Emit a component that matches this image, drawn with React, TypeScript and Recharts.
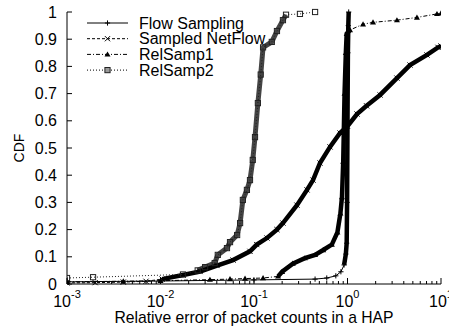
import React from 'react';
import { LineChart, Line, XAxis, YAxis } from 'recharts';

// CDF of relative error as [relative error, CDF]
const seriesNames = ['Flow Sampling', 'Sampled NetFlow', 'RelSamp1', 'RelSamp2'];

const flowSampling: [number, number][] = [
  [0.001, 0.008], [0.01, 0.011], [0.1, 0.015], [0.45, 0.018], [0.6, 0.022],
  [0.75, 0.03], [0.85, 0.045], [0.92, 0.07], [0.96, 0.11], [0.98, 0.15],
  [0.99, 0.3], [1.0, 0.6], [1.01, 0.85], [1.02, 0.95], [1.03, 1.0],
];

const sampledNetFlow: [number, number][] = [
  [0.001, 0.004], [0.002, 0.005], [0.004, 0.007], [0.007, 0.01], [0.0104, 0.018],
  [0.0174, 0.033], [0.0265, 0.046], [0.0402, 0.068], [0.0597, 0.088], [0.0906, 0.12],
  [0.107, 0.145], [0.1377, 0.169], [0.176, 0.2], [0.204, 0.224], [0.288, 0.29],
  [0.369, 0.346], [0.428, 0.382], [0.508, 0.445], [0.65, 0.504], [0.832, 0.555],
  [1.0, 0.58], [1.264, 0.625], [1.6, 0.655], [2.23, 0.695], [3.38, 0.757],
  [4.66, 0.805], [7.08, 0.842], [9.29, 0.87], [10, 0.875],
];

const relSamp1: [number, number][] = [
  [0.001, 0.008], [0.004, 0.01], [0.01, 0.012], [0.0338, 0.016], [0.0554, 0.018],
  [0.0802, 0.02], [0.125, 0.022], [0.181, 0.028], [0.2, 0.045], [0.26, 0.075],
  [0.35, 0.095], [0.45, 0.107], [0.55, 0.125], [0.68, 0.145], [0.78, 0.19],
  [0.84, 0.26], [0.873, 0.32], [0.9, 0.45], [0.93, 0.7], [0.96, 0.85],
  [0.98, 0.92], [1.064, 0.934], [1.466, 0.955], [1.875, 0.962], [3.38, 0.97],
  [5.53, 0.98], [9.06, 0.993], [10, 0.995],
];

const relSamp2: [number, number][] = [
  [0.001, 0.022], [0.0019, 0.025], [0.0174, 0.035], [0.025, 0.05], [0.03, 0.062],
  [0.038, 0.077], [0.041, 0.107], [0.0514, 0.132], [0.0554, 0.154], [0.066, 0.18],
  [0.071, 0.224], [0.076, 0.309], [0.084, 0.346], [0.0906, 0.382], [0.097, 0.456],
  [0.1025, 0.54], [0.11, 0.665], [0.118, 0.77], [0.125, 0.87], [0.155, 0.89],
  [0.176, 0.93], [0.204, 0.97], [0.22, 0.99], [0.31, 0.993], [0.45, 1.0],
];

const xMajorTicks = [0.001, 0.01, 0.1, 1, 10];
const xMinorTicks = [0.001, 0.01, 0.1, 1].flatMap((d) => [2, 3, 4, 5, 6, 7, 8, 9].map((m) => +(d * m).toPrecision(3)));
const xTicks = [...xMajorTicks, ...xMinorTicks].sort((a, b) => a - b);
const yTicks = [0, 0.1, 0.2, 0.3, 0.4, 0.5, 0.6, 0.7, 0.8, 0.9, 1];
const yTickLabels = ['0', '0.1', '0.2', '0.3', '0.4', '0.5', '0.6', '0.7', '0.8', '0.9', '1'];

const FONT = '"Liberation Sans", Arial, Helvetica, sans-serif';

const toPts = (arr: [number, number][]) => arr.map(([x, y]) => ({ x, y }));
const between = (arr: [number, number][], lo: number, hi: number) => toPts(arr.filter(([x]) => x >= lo && x <= hi));

type MarkKind = 'plus' | 'cross' | 'tri' | 'square';

const Marker = ({ kind, cx, cy, legend }: { kind: MarkKind; cx: number; cy: number; legend?: boolean }) => {
  const s = 2.6;
  if (kind === 'plus')
    return <path d={`M${cx - s},${cy}H${cx + s}M${cx},${cy - s}V${cy + s}`} stroke="#000" strokeWidth={1} />;
  if (kind === 'cross')
    return <path d={`M${cx - s},${cy - s}L${cx + s},${cy + s}M${cx - s},${cy + s}L${cx + s},${cy - s}`} stroke="#000" strokeWidth={1} />;
  if (kind === 'tri')
    return <path d={`M${cx},${cy - 3}L${cx + 3},${cy + 2.2}L${cx - 3},${cy + 2.2}Z`} fill="#000" />;
  return <rect x={cx - 2.6} y={cy - 2.6} width={5.2} height={5.2} fill={legend ? '#999' : 'none'} stroke="#222" strokeWidth={1} />;
};

const dotFor = (kind: MarkKind) => (p: any) => (
  <g key={`${kind}-${p.index}`}>
    {p.cx != null && p.cy != null ? <Marker kind={kind} cx={p.cx} cy={p.cy} /> : null}
  </g>
);

const XTick = (props: any) => {
  const { x, y, payload, top } = props;
  const v = payload.value;
  const major = xMajorTicks.includes(v);
  const len = major ? 6 : 3;
  const exp = Math.round(Math.log10(v));
  return (
    <g>
      <line x1={x} x2={x} y1={y} y2={top ? y + len : y - len} stroke="#000" />
      {major && !top ? (
        <text x={x} y={y + 23} textAnchor="middle" fontSize={16} fontFamily={FONT} fill="#000">
          10<tspan dy={-9} fontSize={11}>{String(exp)}</tspan>
        </text>
      ) : null}
    </g>
  );
};

const YTick = (props: any) => {
  const { x, y, payload, right } = props;
  const i = yTicks.indexOf(payload.value);
  return (
    <g>
      <line x1={x} x2={right ? x - 5 : x + 5} y1={y} y2={y} stroke="#000" />
      {!right ? (
        <text x={x - 10} y={y + 5.5} textAnchor="end" fontSize={16} fontFamily={FONT} fill="#000">
          {yTickLabels[i]}
        </text>
      ) : null}
    </g>
  );
};

const legendStyles: { kind: MarkKind; dash?: string }[] = [
  { kind: 'plus' },
  { kind: 'cross', dash: '3 2' },
  { kind: 'tri', dash: '4 2 1 2' },
  { kind: 'square', dash: '1 2' },
];

export default function App() {
  return (
    <div style={{ position: 'absolute', left: 0, top: 0, width: 449, height: 328, background: '#fff', fontFamily: FONT }}>
      <LineChart width={449} height={328} margin={{ top: 12, right: 8, bottom: 0, left: 0 }}>
        <XAxis
          dataKey="x"
          type="number"
          scale="log"
          domain={[0.001, 10]}
          allowDataOverflow
          ticks={xTicks}
          interval={0}
          tickLine={false}
          tickSize={0}
          tickMargin={0}
          height={44}
          axisLine={{ stroke: '#000' }}
          tick={<XTick />}
          label={{ value: 'Relative error of packet counts in a HAP', position: 'insideBottom', offset: 5, fontSize: 15.7, fill: '#000', fontFamily: FONT }}
        />
        <XAxis
          xAxisId="top"
          orientation="top"
          dataKey="x"
          type="number"
          scale="log"
          domain={[0.001, 10]}
          allowDataOverflow
          ticks={xTicks}
          interval={0}
          tickLine={false}
          tickSize={0}
          tickMargin={0}
          height={0}
          axisLine={{ stroke: '#000' }}
          tick={<XTick top />}
        />
        <YAxis
          type="number"
          domain={[0, 1]}
          ticks={yTicks}
          interval={0}
          tickLine={false}
          tickSize={0}
          tickMargin={0}
          width={67}
          axisLine={{ stroke: '#000' }}
          tick={<YTick />}
          label={{ value: 'CDF', angle: -90, position: 'insideLeft', offset: 19, fontSize: 14, fill: '#000', fontFamily: FONT, style: { textAnchor: 'middle' } }}
        />
        <YAxis
          yAxisId="right"
          orientation="right"
          type="number"
          domain={[0, 1]}
          ticks={yTicks}
          interval={0}
          tickLine={false}
          tickSize={0}
          tickMargin={0}
          width={0}
          axisLine={{ stroke: '#000' }}
          tick={<YTick right />}
        />

        {/* dense marker regions drawn as thick bands */}
        <Line data={between(relSamp2, 0.025, 0.22)} dataKey="y" stroke="#444" strokeWidth={5} dot={false} activeDot={false} isAnimationActive={false} legendType="none" />
        <Line data={between(sampledNetFlow, 0.0104, 10)} dataKey="y" stroke="#000" strokeWidth={4.5} dot={false} activeDot={false} isAnimationActive={false} legendType="none" />
        <Line data={between(relSamp1, 0.181, 1.064)} dataKey="y" stroke="#000" strokeWidth={4.5} dot={false} activeDot={false} isAnimationActive={false} legendType="none" />
        <Line data={between(flowSampling, 0.9, 10)} dataKey="y" stroke="#000" strokeWidth={4.5} dot={false} activeDot={false} isAnimationActive={false} legendType="none" />

        <Line name={seriesNames[0]} data={toPts(flowSampling)} dataKey="y" stroke="#000" strokeWidth={1} dot={dotFor('plus')} activeDot={false} isAnimationActive={false} />
        <Line name={seriesNames[1]} data={toPts(sampledNetFlow)} dataKey="y" stroke="#000" strokeWidth={1} strokeDasharray="3 2" dot={dotFor('cross')} activeDot={false} isAnimationActive={false} />
        <Line name={seriesNames[2]} data={toPts(relSamp1)} dataKey="y" stroke="#000" strokeWidth={1} strokeDasharray="4 2 1 2" dot={dotFor('tri')} activeDot={false} isAnimationActive={false} />
        <Line name={seriesNames[3]} data={toPts(relSamp2)} dataKey="y" stroke="#222" strokeWidth={1} strokeDasharray="1 2" dot={dotFor('square')} activeDot={false} isAnimationActive={false} />
      </LineChart>

      <svg width={449} height={328} style={{ position: 'absolute', left: 0, top: 0, pointerEvents: 'none' }}>
        {seriesNames.map((name, i) => {
          const y = 23 + i * 15.7;
          const st = legendStyles[i];
          return (
            <g key={name}>
              <line x1={87} x2={128} y1={y} y2={y} stroke="#000" strokeWidth={1} strokeDasharray={st.dash} />
              <Marker kind={st.kind} cx={107.5} cy={y} legend />
              <text x={139} y={y + 5.5} fontSize={16} fontFamily={FONT} fill="#000">{name}</text>
            </g>
          );
        })}
      </svg>
    </div>
  );
}
